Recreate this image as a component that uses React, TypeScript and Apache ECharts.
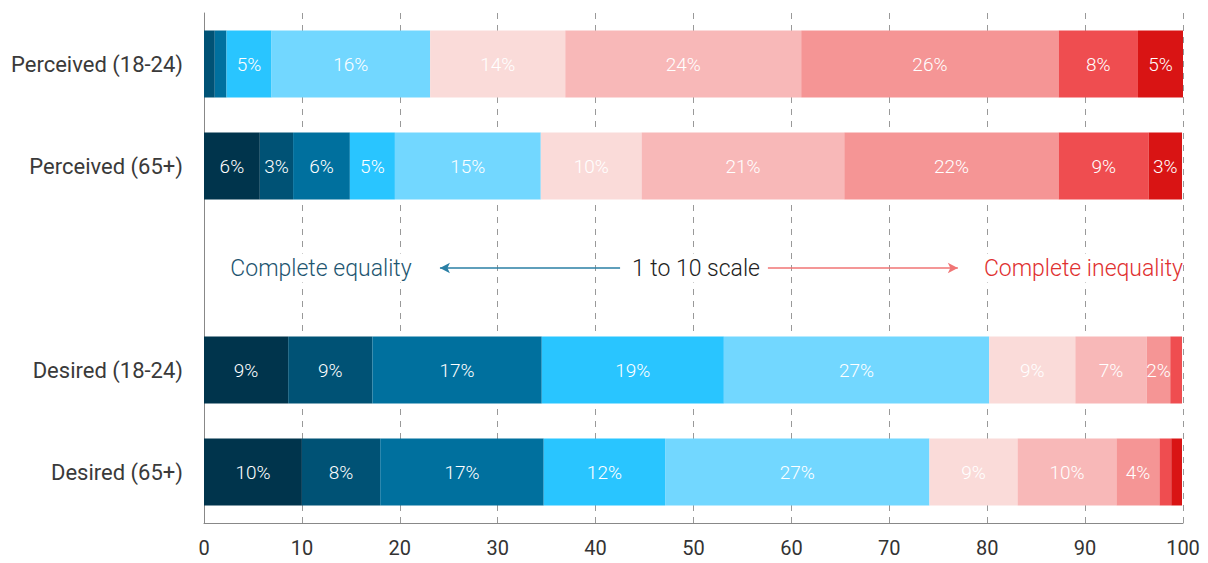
import React, { useEffect, useRef } from "react";
import * as echarts from "echarts";

const categories = ["Perceived (18-24)", "Perceived (65+)", "", "Desired (18-24)", "Desired (65+)"];
const scaleLevels = ["1", "2", "3", "4", "5", "6", "7", "8", "9", "10"];
const perceived1824 = [0, 1.1, 1.2, 4.6, 16.2, 13.8, 24.1, 26.3, 8.1, 4.6];
const perceived65 = [5.7, 3.4, 5.8, 4.6, 14.9, 10.3, 20.7, 21.9, 9.2, 3.4];
const desired1824 = [8.6, 8.6, 17.3, 18.6, 27.1, 8.8, 7.3, 2.4, 1.2, 0];
const desired65 = [10.0, 8.0, 16.7, 12.4, 27.0, 9.0, 10.1, 4.4, 1.2, 1.1];
const xTicks = [0, 10, 20, 30, 40, 50, 60, 70, 80, 90, 100];
const colors = ["#00344C", "#005275", "#00709E", "#29C5FF", "#72D7FF", "#FADBD9", "#F8B8B8", "#F59595", "#EF4D50", "#D91414"];

const arrowLeft = [24.1, 42.5];
const arrowRight = [57.6, 77.0];
const annotationRow = 2;

export default function App() {
  const ref = useRef<HTMLDivElement>(null);
  useEffect(() => {
    if (!ref.current) return;
    const chart = echarts.init(ref.current, undefined, { renderer: "svg" });
    const rows = [perceived1824, perceived65, null, desired1824, desired65];
    const series: any[] = scaleLevels.map((lvl, i) => ({
      name: lvl,
      type: "bar",
      stack: "total",
      barWidth: 67,
      itemStyle: { color: colors[i] },
      label: {
        show: true,
        position: "inside",
        color: "#fff",
        fontFamily: "Roboto",
        fontWeight: 300,
        fontSize: 19,
        formatter: (p: any) => (typeof p.value === "number" && p.value >= 2 ? Math.round(p.value) + "%" : ""),
      },
      data: rows.map((r) => (r ? r[i] : "-")),
    }));
    const textLabel = (text: string, color: string) => ({
      show: true,
      position: "inside",
      formatter: text,
      color,
      fontSize: 23,
      fontWeight: 300,
      fontFamily: "Roboto",
      backgroundColor: "#fff",
      padding: [3, 4],
    });
    series.push({
      name: "annotation",
      type: "line",
      data: categories.map(() => "-"),
      silent: true,
      symbol: "none",
      markLine: {
        silent: true,
        animation: false,
        label: { show: false },
        symbolSize: [8, 10],
        data: [
          [
            { coord: [arrowLeft[0], annotationRow], symbol: "arrow", lineStyle: { color: "#2A7FA5", width: 1.5, type: "solid" } },
            { coord: [arrowLeft[1], annotationRow], symbol: "none" },
          ],
          [
            { coord: [arrowRight[0], annotationRow], symbol: "none", lineStyle: { color: "#F07575", width: 1.5, type: "solid" } },
            { coord: [arrowRight[1], annotationRow], symbol: "arrow" },
          ],
        ],
      },
      markPoint: {
        silent: true,
        animation: false,
        symbol: "circle",
        symbolSize: 0,
        data: [
          { coord: [11.95, annotationRow], label: textLabel("Complete equality", "#1D5570") },
          { coord: [50.25, annotationRow], label: textLabel("1 to 10 scale", "#222") },
          {
            coord: [100, annotationRow],
            label: { ...textLabel("Complete inequality", "#E03030"), position: "left", distance: 0, padding: [3, 0, 3, 4] },
          },
        ],
      },
    });
    chart.setOption({
      animation: false,
      grid: { left: 204, right: 25, top: 13, bottom: 40, containLabel: false },
      xAxis: {
        type: "value",
        min: xTicks[0],
        max: xTicks[xTicks.length - 1],
        interval: 10,
        axisLine: { show: true, lineStyle: { color: "#888", width: 1 } },
        axisTick: { show: false },
        axisLabel: { fontSize: 20, color: "#333", fontFamily: "Roboto", margin: 15 },
        splitLine: { show: true, lineStyle: { color: "#999", type: [6, 6], width: 1 } },
      },
      yAxis: {
        type: "category",
        inverse: true,
        data: categories,
        axisLine: { show: true, lineStyle: { color: "#888", width: 1 } },
        axisTick: { show: false },
        axisLabel: { fontSize: 22, color: "#3a3a3a", fontFamily: "Roboto", margin: 21 },
      },
      series,
    });
    return () => chart.dispose();
  }, []);
  return <div ref={ref} style={{ position: "fixed", left: 0, top: 0, width: 1208, height: 563, background: "#fff" }} />;
}
